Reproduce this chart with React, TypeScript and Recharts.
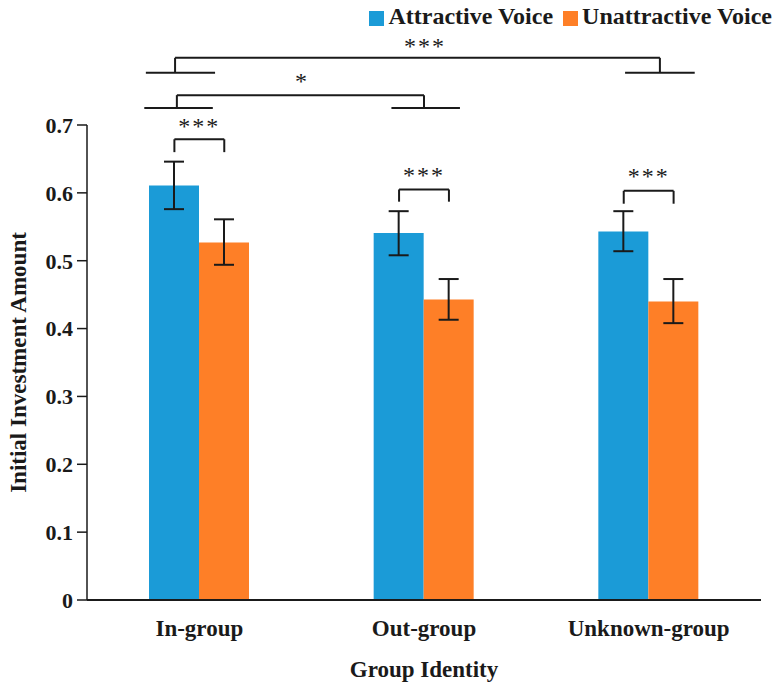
import {
  ComposedChart,
  Bar,
  XAxis,
  YAxis,
  ErrorBar,
  Legend,
  ReferenceLine,
  ReferenceDot,
} from 'recharts';

const groups = ['In-group', 'Out-group', 'Unknown-group'];
const attractive = [0.611, 0.541, 0.543];
const attractiveLow = [0.576, 0.508, 0.514];
const attractiveHigh = [0.646, 0.573, 0.573];
const unattractive = [0.527, 0.443, 0.44];
const unattractiveLow = [0.494, 0.413, 0.408];
const unattractiveHigh = [0.561, 0.473, 0.473];
const yTicks = [0, 0.1, 0.2, 0.3, 0.4, 0.5, 0.6, 0.7];

// within-group brackets (y in data units), x = bar centres on the hidden numeric axis
const pairTop = [0.679, 0.605, 0.603];
const pairFoot = [0.66, 0.587, 0.584];
const pairStarY = [0.699, 0.627, 0.625];
const barOffset = 0.111; // half of one bar, in category units

// between-group brackets
const crossBrackets = [
  { x1: 0.4, x2: 1.5, top: 0.744, foot: 0.725, label: '*', lx: 0.957, ly: 0.766, under: [[0.255, 0.56], [1.355, 1.66]] },
  { x1: 0.392, x2: 2.55, top: 0.799, foot: 0.777, label: '***', lx: 1.504, ly: 0.817, under: [[0.262, 0.57], [2.395, 2.705]] },
];

const BLUE = '#1b9bd7';
const ORANGE = '#fe7f27';
const INK = '#1a1a1a';
const FONT = '"Liberation Serif", "Times New Roman", serif';

const data = groups.map((g, i) => ({
  group: g,
  pos: i + 0.5,
  attractive: attractive[i],
  attractiveErr: [attractive[i] - attractiveLow[i], attractiveHigh[i] - attractive[i]],
  unattractive: unattractive[i],
  unattractiveErr: [unattractive[i] - unattractiveLow[i], unattractiveHigh[i] - unattractive[i]],
}));

const textStyle = { fontSize: 23, fontWeight: 'bold', fill: INK, fontFamily: FONT };

function Seg({ a, b }: { a: [number, number]; b: [number, number] }) {
  return (
    <ReferenceLine
      xAxisId="n"
      segment={[{ x: a[0], y: a[1] }, { x: b[0], y: b[1] }]}
      stroke={INK}
      strokeWidth={2}
      ifOverflow="visible"
    />
  );
}

function Stars({ x, y, text }: { x: number; y: number; text: string }) {
  return (
    <ReferenceDot
      xAxisId="n"
      x={x}
      y={y}
      r={1}
      fill="none"
      stroke="none"
      ifOverflow="visible"
      label={{ value: text, position: 'center', fill: INK, fontSize: 24, fontFamily: FONT, letterSpacing: 2 }}
    />
  );
}

export default function App() {
  const lines: any[] = [];
  groups.forEach((_, i) => {
    const l = i + 0.5 - barOffset;
    const r = i + 0.5 + barOffset;
    lines.push(Seg({ a: [l, pairFoot[i]], b: [l, pairTop[i]] }));
    lines.push(Seg({ a: [l, pairTop[i]], b: [r, pairTop[i]] }));
    lines.push(Seg({ a: [r, pairTop[i]], b: [r, pairFoot[i]] }));
    lines.push(Stars({ x: i + 0.5, y: pairStarY[i], text: '***' }));
  });
  crossBrackets.forEach((c) => {
    lines.push(Seg({ a: [c.x1, c.foot], b: [c.x1, c.top] }));
    lines.push(Seg({ a: [c.x1, c.top], b: [c.x2, c.top] }));
    lines.push(Seg({ a: [c.x2, c.top], b: [c.x2, c.foot] }));
    c.under.forEach((u) => lines.push(Seg({ a: [u[0], c.foot], b: [u[1], c.foot] })));
    lines.push(Stars({ x: c.lx, y: c.ly, text: c.label }));
  });

  return (
    <div style={{ position: 'absolute', left: 0, top: 0, background: '#fff' }}>
      <ComposedChart
        width={782}
        height={689}
        data={data}
        margin={{ top: 100, right: 21, bottom: 0, left: 0 }}
        barGap={0}
      >
        <Legend
          verticalAlign="top"
          align="right"
          iconType="square"
          iconSize={15}
          height={25}
          wrapperStyle={{ top: 1, right: 0, fontFamily: FONT, fontSize: 24, fontWeight: 'bold', lineHeight: '30px' }}
          formatter={(v: string) => <span style={{ color: INK, fontWeight: 'bold' }}>{v}</span>}
        />
        <XAxis
          dataKey="group"
          height={89}
          axisLine={{ stroke: INK, strokeWidth: 2 }}
          tickLine={false}
          tick={textStyle}
          tickMargin={14}
          label={{ value: 'Group Identity', position: 'insideBottom', offset: 12, ...textStyle }}
        />
        <XAxis xAxisId="n" dataKey="pos" type="number" domain={[0, 3]} hide />
        <YAxis
          width={87}
          domain={[0, 0.7]}
          ticks={yTicks}
          interval={0}
          tickFormatter={(v: number) => (v === 0 ? '0' : v.toFixed(1))}
          axisLine={{ stroke: INK, strokeWidth: 1.5 }}
          tickLine={{ stroke: INK, strokeWidth: 1.5 }}
          tickSize={10}
          tickMargin={4}
          tick={{ ...textStyle, fontSize: 22 }}
          label={{ value: 'Initial Investment Amount', angle: -90, position: 'insideLeft', offset: 0, dx: 18, style: { textAnchor: 'middle' }, ...textStyle }}
        />
        <Bar dataKey="attractive" name="Attractive Voice" fill={BLUE} barSize={50} isAnimationActive={false}>
          <ErrorBar dataKey="attractiveErr" width={10} stroke={INK} strokeWidth={2} />
        </Bar>
        <Bar dataKey="unattractive" name="Unattractive Voice" fill={ORANGE} barSize={50} isAnimationActive={false}>
          <ErrorBar dataKey="unattractiveErr" width={10} stroke={INK} strokeWidth={2} />
        </Bar>
        {lines}
      </ComposedChart>
    </div>
  );
}
